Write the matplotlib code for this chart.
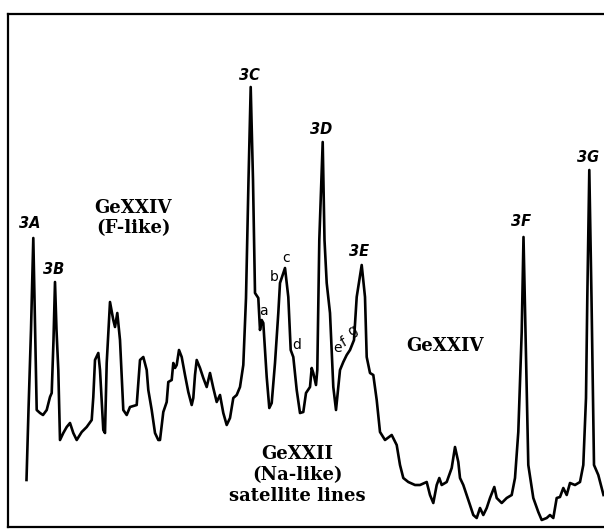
import matplotlib
matplotlib.use('Agg')
import matplotlib.pyplot as plt

# spectrum trace (channel position, intensity)
channel = [26.5, 28.5, 31, 33.3, 34.5, 36.7, 40, 43, 46.7, 50, 51.7, 53.5, 55, 56.5, 58.3,
           60, 63.3, 66.7, 70, 73.3, 76.7, 81.7, 86.7, 91.7, 93.3, 95, 98.3, 100, 103.3, 105,
           106.7, 110, 113.3, 115, 117.3, 120, 123.3, 126.7, 130, 136.7, 140, 143.3, 146.7, 148.3,
           151.7, 155, 158.3, 160, 163.3, 166.7, 168.3, 171.7, 173.3, 175, 176.7, 179, 181.7, 185,
           188.3, 191.7, 193.3, 195, 196.7, 200, 203.3, 206.7, 210, 213.3, 216.7, 220, 223.3,
           226.7, 230, 233.3, 236.7, 240, 243.3, 246, 248.5, 250.7, 253, 255, 258.3, 260, 261.7,
           263.3, 266.7, 269.3, 271.7, 275, 278.3, 280, 285, 288.3, 290.7, 293.3, 296.7, 300,
           303.3, 306, 310, 311.7, 313.3, 316, 317.3, 319.3, 322.7, 324.5, 326.7, 330, 333.3, 336,
           338.3, 340, 343.3, 346.7, 350, 354, 356.7, 361.7, 365, 366.7, 370, 373.3, 376.7, 380,
           385, 391.7, 396.7, 400, 403.3, 408.3, 415, 420, 426.7, 430, 433.3, 436.7, 439.3, 441.7,
           446.7, 451.7, 455, 458.3, 460, 463.3, 466.7, 470, 473.3, 476.7, 480, 483.3, 486.7, 490,
           494.3, 496.7, 501.7, 506.7, 511.7, 515, 518.3, 521.7, 523.5, 525.5, 528.3, 533.3, 538.3,
           541.7, 546.7, 550, 553.3, 556.7, 560, 563.3, 566.7, 570, 575, 580, 583.3, 586, 587.3,
           589.3, 591.5, 594, 598.3, 603.5]
intensity = [50, 120, 200, 292, 230, 120, 117, 115, 120, 133, 137, 190, 248, 200, 160,
             90, 97, 103, 107, 97, 90, 98, 103, 110, 133, 170, 177, 160, 100, 97,
             167, 228, 210, 203, 217, 190, 120, 115, 123, 125, 170, 173, 160, 140,
             120, 97, 90, 90, 118, 128, 148, 150, 167, 162, 165, 180, 173, 155,
             138, 125, 132, 155, 170, 162, 152, 143, 157, 142, 128, 135, 117,
             105, 112, 132, 135, 143, 165, 232, 350, 443, 350, 237, 232, 200, 210,
             207, 153, 122, 127, 167, 217, 247, 262, 233, 180, 173, 140, 117,
             118, 137, 143, 162, 157, 145, 160, 290, 388, 290, 247, 217, 143, 120,
             143, 160, 168, 175, 180, 190, 233, 265, 233, 173, 157, 155, 130, 98,
             90, 95, 85, 65, 52, 48, 45, 45, 48, 35, 27, 45, 52, 45,
             48, 62, 83, 68, 52, 45, 35, 25, 15, 12, 22, 15, 22, 32,
             43, 32, 27, 32, 35, 52, 98, 198, 293, 198, 65, 32, 18,
             10, 12, 15, 12, 32, 33, 42, 35, 47, 45, 48, 65, 132, 232,
             360, 232, 65, 55, 35]

fig = plt.figure(figsize=(6.04, 5.30), dpi=100)
ax = fig.add_axes([8 / 604, 3 / 530, 1 - 8 / 604, 513 / 530])
ax.plot(channel, intensity, color='black', linewidth=1.9, solid_joinstyle='round')
ax.set_xlim(8, 604)
ax.set_ylim(3, 516)
ax.set_xticks([])
ax.set_yticks([])
ax.spines['right'].set_visible(False)
for s in ['left', 'top', 'bottom']:
    ax.spines[s].set_linewidth(1.6)

# peak labels
peak_kw = dict(fontsize=10.5, fontweight='bold', fontstyle='italic', ha='center', va='center',
               family='DejaVu Sans')
ax.text(30, 306, '3A', **peak_kw)
ax.text(54, 260, '3B', **peak_kw)
ax.text(249, 455, '3C', **peak_kw)
ax.text(321, 400, '3D', **peak_kw)
ax.text(359, 278, '3E', **peak_kw)
ax.text(521, 308, '3F', **peak_kw)
ax.text(588, 373, '3G', **peak_kw)

small_kw = dict(fontsize=10, ha='center', va='center', family='DejaVu Sans')
ax.text(263, 219, 'a', **small_kw)
ax.text(274, 253, 'b', **small_kw)
ax.text(286, 272, 'c', **small_kw)
ax.text(297, 185, 'd', **small_kw)
ax.text(337, 182, 'e', **small_kw)
ax.text(344, 188, 'f', rotation=30, **small_kw)
ax.text(353, 199, 'g', rotation=30, **small_kw)

# ion annotations
ion_kw = dict(fontsize=13, fontweight='bold', family='DejaVu Serif', ha='center', va='center')
ax.text(133, 312, 'GeXXIV\n(F-like)', linespacing=1.2, **ion_kw)
ax.text(445, 184, 'GeXXIV', **ion_kw)
ax.text(297, 55, 'GeXXII\n(Na-like)\nsatellite lines', linespacing=1.2, **ion_kw)

fig.savefig('out.png', dpi=100)
